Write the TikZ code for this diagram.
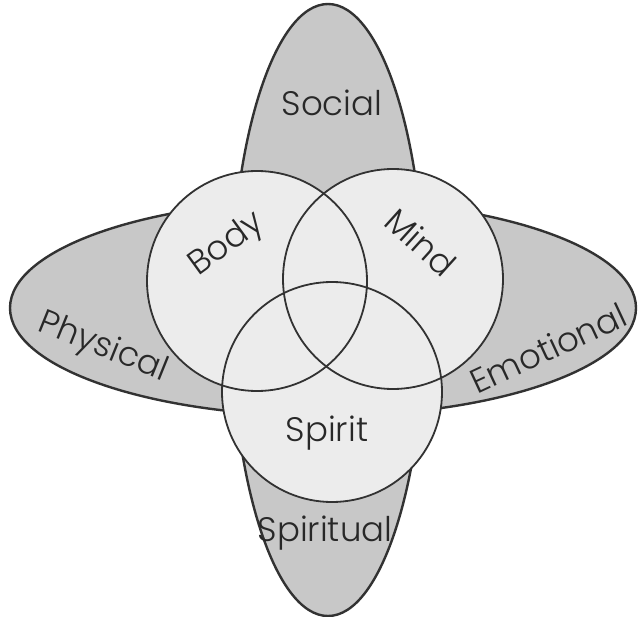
\documentclass[tikz,border=0pt]{standalone}
\usepackage{fontspec}
\setmainfont{Poppins}[UprightFont={* Light}]
\definecolor{petalgray}{RGB}{200,200,200}
\definecolor{circlegray}{RGB}{236,236,236}
\definecolor{linegray}{RGB}{50,50,50}
\definecolor{textgray}{RGB}{40,40,40}
\begin{document}
\begin{tikzpicture}[x=1pt,y=-1pt,
  petal/.style={draw=linegray,line width=2.4pt},
  ring/.style={draw=linegray,line width=1.8pt},
  word/.style={font=\fontsize{34}{40}\selectfont,text=textgray,inner sep=0pt}]
\useasboundingbox[fill=white] (0,0) rectangle (639,617);
% four grey petals
\fill[petalgray] (328,310) ellipse [x radius=97pt,y radius=306pt];
\fill[petalgray] (323,308) ellipse [x radius=313pt,y radius=108pt];
\draw[petal] (328,310) ellipse [x radius=97pt,y radius=306pt];
\draw[petal] (323,308) ellipse [x radius=313pt,y radius=108pt];
% three circles
\fill[circlegray] (257,281) circle [radius=110pt];
\fill[circlegray] (393,279) circle [radius=110pt];
\fill[circlegray] (332,392) circle [radius=110pt];
\draw[ring] (257,281) circle [radius=110pt];
\draw[ring] (393,279) circle [radius=110pt];
\draw[ring] (332,392) circle [radius=110pt];
% labels
\node[word] (social) at (332,103) {Social};
\node[word] (spiritual) at (325,533) {Spiritual};
\node[word,rotate=-22] (physical) at (103,348) {Physical};
\node[word,rotate=25] (emotional) at (548,348) {Emotional};
\node[word,rotate=36] (body) at (227,245) {Body};
\node[word,rotate=-42] (mind) at (421,242) {Mind};
\node[word] (spirit) at (327,433) {Spirit};
\end{tikzpicture}
\end{document}
